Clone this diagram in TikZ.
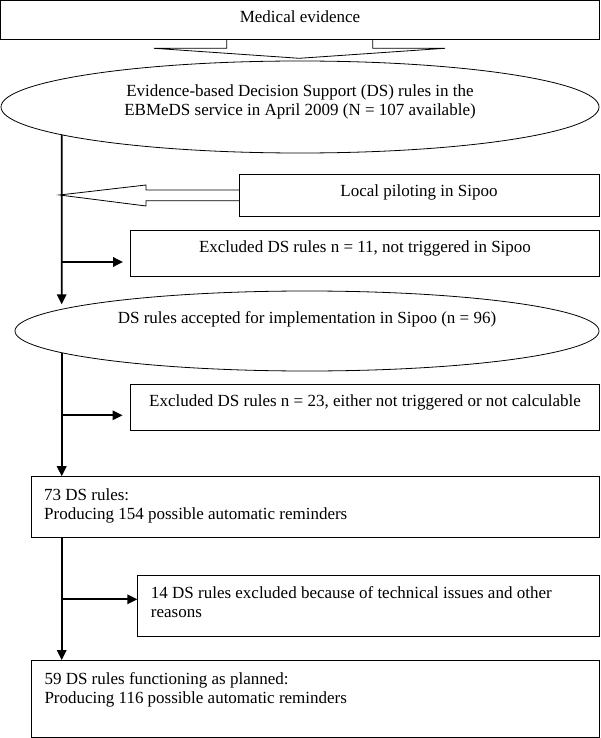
\documentclass[tikz,border=0pt]{standalone}
\usepackage{fontspec}
\setmainfont{Liberation Serif}
\usetikzlibrary{arrows.meta,shapes.geometric,calc,intersections}
\begin{document}
\begin{tikzpicture}[x=1pt,y=-1pt,
  box/.style={draw,line width=0.8pt,anchor=north west,inner sep=0pt,outer sep=0pt},
  oval/.style={draw,ellipse,line width=0.8pt,inner sep=0pt,outer sep=0pt},
  txt/.style={font=\fontsize{17}{19}\selectfont,inner sep=0pt,text height=12pt,text depth=3.5pt},
  ltxt/.style={font=\fontsize{17}{19}\selectfont,inner sep=0pt,anchor=north west,align=left},
  blk/.style={line width=0.8pt},
  conn/.style={line width=1.8pt,-{Triangle[length=10pt,width=9.5pt]}}]
\useasboundingbox (0,0) rectangle (600,738);
% Medical evidence
\node[box,minimum width=598.5pt,minimum height=39pt] (med) at (0.5,0.3) {};
\node[txt] (tmed) at (300,18.5) {Medical evidence};
% down block arrow
\draw[blk] (226.7,39.3) -- (226.7,48.3) -- (154,48.3) -- (299.3,58.3) -- (445,48.3) -- (372.7,48.3) -- (372.7,39.3);
% ellipse 1
\node[oval,name path=E1,minimum width=598pt,minimum height=92pt] (e1) at (300,107) {};
\node[txt,align=center,text height=,text depth=] (te1) at (300,101.6) {Evidence-based Decision Support (DS) rules in the\\EBMeDS service in April 2009 (N = 107 available)};
% local piloting
\node[box,minimum width=359.7pt,minimum height=42.7pt] (lp) at (239.3,174) {};
\node[txt] (tlp) at (419,192) {Local piloting in Sipoo};
\draw[blk] (lp.north west |- 0,190) -- (146,190) -- (146,185) -- (59.5,195) -- (146,206) -- (146,200.7) -- (lp.north west |- 0,200.7);
% excluded 11
\node[box,minimum width=468.5pt,minimum height=46pt] (x11) at (130.5,230.7) {};
\node[txt] (tx11) at (365,248.5) {Excluded DS rules n = 11, not triggered in Sipoo};
% ellipse 2
\node[oval,name path=E2,minimum width=584pt,minimum height=80pt] (e2) at (307,331) {};
\node[txt] (te2) at (307,319.5) {DS rules accepted for implementation in Sipoo (n = 96)};
% excluded 23
\node[box,minimum width=468.5pt,minimum height=45.8pt] (x23) at (130.5,384.2) {};
\node[txt] (tx23) at (365,402.3) {Excluded DS rules n = 23, either not triggered or not calculable};
% 73 box
\node[box,minimum width=567.3pt,minimum height=61.1pt] (b73) at (31.7,476.2) {};
\node[ltxt] (tb73) at (44,488) {73 DS rules:\\Producing 154 possible automatic reminders};
% excluded 14
\node[box,minimum width=461.7pt,minimum height=61pt] (x14) at (137.3,575.7) {};
\node[ltxt] (tx14) at (150.7,586) {14 DS rules excluded because of technical issues and other\\reasons};
% 59 box
\node[box,minimum width=567.3pt,minimum height=77pt] (b59) at (31.7,660) {};
\node[ltxt] (tb59) at (44.3,672.3) {59 DS rules functioning as planned:\\Producing 116 possible automatic reminders};
% trunk geometry
\path[name path=V] (61.7,0) -- (61.7,738);
\path[name intersections={of=E1 and V,sort by=V,name=ia}];
\path[name intersections={of=E2 and V,sort by=V,name=ib}];
\coordinate (j1) at (61.7,262);
\coordinate (j2) at (61.7,415.3);
\coordinate (j3) at (61.7,599.3);
\draw[conn,shorten >=5pt] (ia-2) -- (ib-1);
\draw[conn,shorten >=7.5pt] (j1) -- (j1 -| x11.west);
\draw[conn] (ib-2) -- (ib-2 |- b73.north);
\draw[conn,shorten >=8pt] (j2) -- (j2 -| x23.west);
\draw[conn] (b73.south -| j3) -- (b59.north -| j3);
\draw[conn] (j3) -- (j3 -| x14.west);
\end{tikzpicture}
\end{document}
